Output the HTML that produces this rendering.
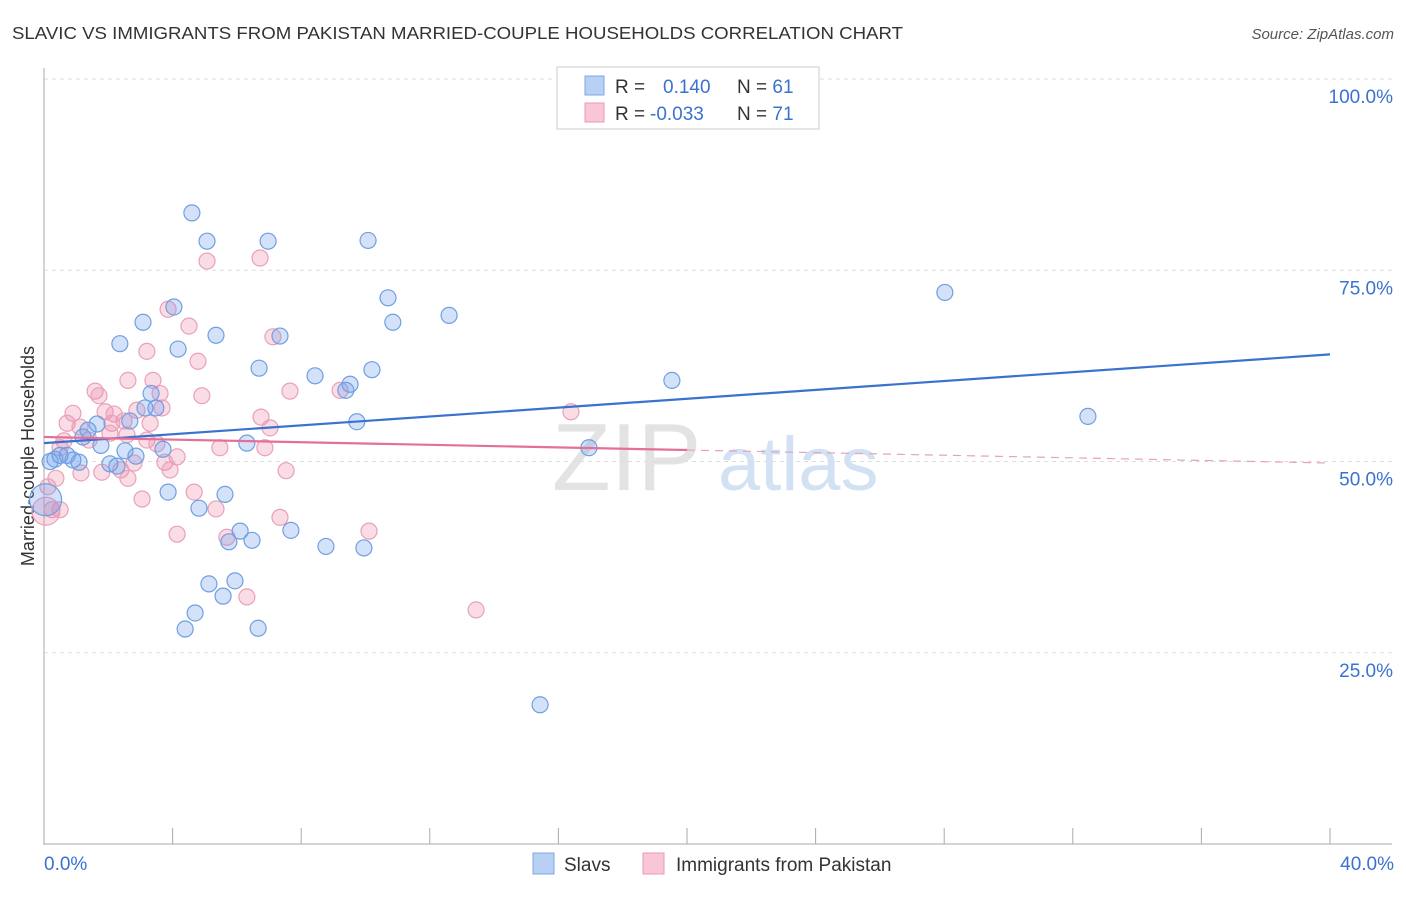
<!DOCTYPE html>
<html><head><meta charset="utf-8"><style>
body{margin:0;background:#fff;font-family:"Liberation Sans",sans-serif}
svg text{font-family:"Liberation Sans",sans-serif}
</style></head><body>
<svg id="c" width="1406" height="892" xmlns="http://www.w3.org/2000/svg">
<text x="12" y="39" font-size="17.5" fill="#333" textLength="891" lengthAdjust="spacingAndGlyphs">SLAVIC VS IMMIGRANTS FROM PAKISTAN MARRIED-COUPLE HOUSEHOLDS CORRELATION CHART</text>
<text x="1394" y="39" font-size="15" fill="#555" font-style="italic" text-anchor="end">Source: ZipAtlas.com</text>
<text transform="translate(34,456) rotate(-90)" font-size="18" fill="#333" text-anchor="middle">Married-couple Households</text>
<g><text x="552" y="490" font-size="96" font-family="Liberation Serif" fill="#ddd" opacity="0.8">ZIP</text><text x="718" y="490" font-size="76" fill="#c9daf2" opacity="0.8">atlas</text></g>
<g id="grid"></g><g id="pts"></g><g id="lines"></g>
<g>
<rect x="557" y="67" width="262" height="62" fill="#fff" stroke="#ccc"/>
<rect x="585" y="76" width="19" height="19" fill="#b8d0f4" stroke="#7ea6e3"/>
<rect x="585" y="103" width="19" height="19" fill="#f8c6d6" stroke="#e99ab6"/>
<text x="615" y="93" font-size="19" fill="#333">R =</text><text x="663" y="93" font-size="19" fill="#3a72d0">0.140</text><text x="737" y="93" font-size="19" fill="#333">N = <tspan fill="#3a72d0">61</tspan></text>
<text x="615" y="120" font-size="19" fill="#333">R =</text><text x="650" y="120" font-size="19" fill="#3a72d0">-0.033</text><text x="737" y="120" font-size="19" fill="#333">N = <tspan fill="#3a72d0">71</tspan></text>
</g>
<g>
<rect x="533" y="853" width="21" height="21" fill="#b8d0f4" stroke="#7ea6e3"/>
<text x="564" y="871" font-size="19" fill="#333">Slavs</text>
<rect x="643" y="853" width="21" height="21" fill="#f8c6d6" stroke="#e99ab6"/>
<text x="676" y="871" font-size="19" fill="#333">Immigrants from Pakistan</text>
</g>
</svg>
<script>
const yTicks=[25,50,75,100];
const yTickLabels=["25.0%","50.0%","75.0%","100.0%"];
const xTickLabels=["0.0%","40.0%"];
const slavX=[4.60,5.07,6.97,10.08,28.02,10.70,12.60,10.85,4.04,3.08,5.35,7.34,2.36,4.17,6.69,8.43,10.20,9.52,9.39,19.53,32.47,3.33,3.48,3.14,2.67,9.73,1.65,1.37,1.21,1.77,6.31,3.70,2.52,2.86,0.50,0.34,0.72,0.90,1.09,2.05,2.27,16.95,3.86,5.63,4.82,6.10,5.75,6.47,7.68,8.77,9.95,5.13,5.94,5.57,4.70,4.39,6.66,15.43,0.19,0.05];
const slavY=[82.5,78.8,78.8,78.9,72.1,71.4,69.1,68.2,70.2,68.2,66.5,66.4,65.4,64.7,62.2,61.2,62.0,60.1,59.3,60.6,55.9,58.9,57.0,57.0,55.3,55.2,54.9,54.1,53.2,52.1,52.4,51.6,51.4,50.7,50.8,50.3,50.8,50.2,49.9,49.7,49.4,51.8,46.0,45.7,43.9,40.9,39.5,39.7,41.0,38.9,38.7,34.0,34.4,32.4,30.2,28.1,28.2,18.2,50.0,45.0];
const pakX=[5.07,6.72,3.86,4.51,7.12,3.20,4.79,2.61,3.39,1.59,3.61,1.71,4.91,7.65,9.21,0.90,1.90,2.89,2.18,2.49,3.67,6.75,16.39,0.72,1.12,2.11,7.03,0.62,1.40,3.20,3.51,5.47,6.87,0.50,4.14,3.76,2.80,2.39,1.80,1.15,3.92,7.53,2.61,0.37,4.67,3.05,0.12,0.25,5.35,0.50,7.34,4.14,5.69,10.11,6.31,13.44,2.05,2.58,3.30,0.06];
const pakY=[76.2,76.6,69.9,67.7,66.3,64.4,63.1,60.6,60.6,59.2,58.9,58.6,58.6,59.2,59.3,56.3,56.5,56.7,56.2,55.3,57.0,55.8,56.5,55.0,54.5,55.0,54.4,52.7,52.8,52.8,52.3,51.8,51.8,51.8,50.6,49.9,49.8,48.9,48.6,48.5,48.9,48.8,47.8,47.8,46.0,45.1,46.7,43.7,43.8,43.7,42.7,40.5,40.1,40.9,32.3,30.6,53.7,53.5,55.0,43.5];
const slavLine=[52.4,64.0];
const pakLine=[53.2,49.8];
const pakSolidEnd=20;
const X=v=>44+v/40*1286, Y=v=>844-v/100*765;
const NS="http://www.w3.org/2000/svg";
function mk(t,a,p){const e=document.createElementNS(NS,t);for(const k in a)e.setAttribute(k,a[k]);p.appendChild(e);return e;}
const g=document.getElementById('grid');
mk('line',{x1:44,y1:Y(100),x2:1392,y2:Y(100),stroke:'#ddd','stroke-dasharray':'4,4'},g);
yTicks.forEach((t,i)=>{const l=mk('line',{x1:44,y1:Y(t),x2:1392,y2:Y(t),stroke:'#ddd','stroke-dasharray':'4,4'},g);


const tx=mk('text',{x:1393,y:Y(t)+24,'font-size':19,fill:'#3a72d0','text-anchor':'end'},g);tx.textContent=yTickLabels[i];

});
mk('line',{x1:44,y1:68,x2:44,y2:845,stroke:'#aaa'},g);
mk('line',{x1:44,y1:844,x2:1392,y2:844,stroke:'#aaa'},g);
for(let i=0;i<=10;i++){const t=mk('line',{x1:X(i*4),y1:828,x2:X(i*4),y2:844,stroke:'#aaa'},g);

}
[[0,'start',44],[40,'end',1394]].forEach((d,i)=>{const tx=mk('text',{x:d[2],y:870,'font-size':19,fill:'#3a72d0','text-anchor':d[1]},g);tx.textContent=xTickLabels[i];

});
const p=document.getElementById('pts');
function pts(xs,ys,fill,st,name,bigR){xs.forEach((x,i)=>{const c=mk('circle',{cx:X(x),cy:Y(ys[i]),r:(i===xs.length-1)?bigR:8,fill:fill,stroke:st,'stroke-width':1.2},p);

});}
pts(pakX,pakY,'rgba(240,140,170,0.3)','#e9a0ba','pakistan-point',14);
pts(slavX,slavY,'rgba(110,160,235,0.3)','#6f9fe2','slavs-point',16);
const L=document.getElementById('lines');
let a=mk('line',{x1:X(0),y1:Y(slavLine[0]),x2:X(40),y2:Y(slavLine[1]),stroke:'#3a72d0','stroke-width':2.2},L);


const pm=pakLine[0]+(pakLine[1]-pakLine[0])*pakSolidEnd/40;
let b=mk('line',{x1:X(0),y1:Y(pakLine[0]),x2:X(pakSolidEnd),y2:Y(pm),stroke:'#e4709a','stroke-width':2.2},L);


let d=mk('line',{x1:X(pakSolidEnd),y1:Y(pm),x2:X(40),y2:Y(pakLine[1]),stroke:'#e9a0ba','stroke-width':1.2,'stroke-dasharray':'8,6'},L);


</script>
</body></html>
